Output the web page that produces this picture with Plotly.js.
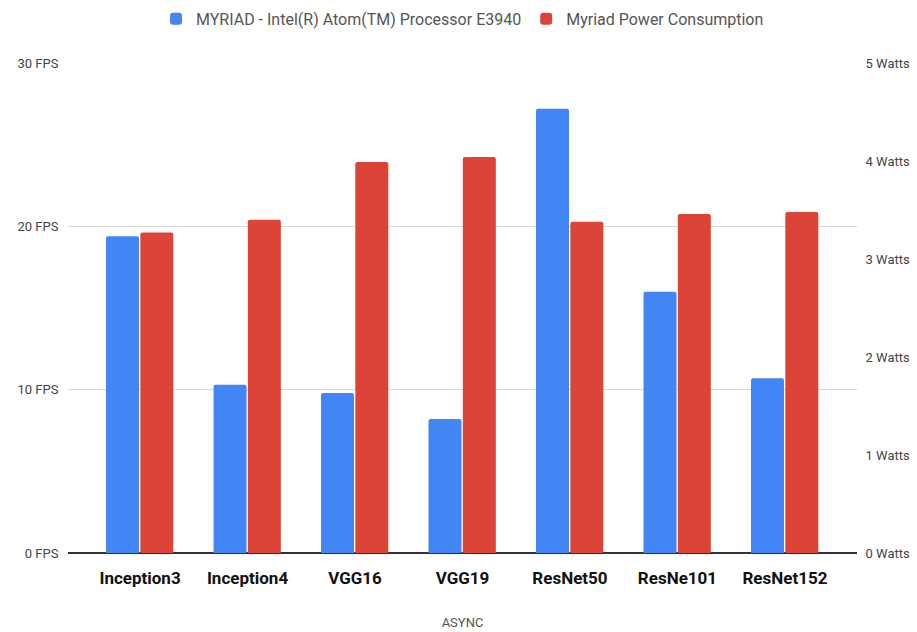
<!DOCTYPE html>
<html>
<head>
<meta charset="utf-8">
<script src="https://cdn.plot.ly/plotly-3.0.1.min.js"></script>
<style>html,body{margin:0;padding:0;background:#fff;}#chart{width:917px;height:632px;}</style>
</head>
<body>
<div id="chart"></div>
<script>
const categories = ["Inception3", "Inception4", "VGG16", "VGG19", "ResNet50", "ResNe101", "ResNet152"];
const fpsValues = [19.4, 10.3, 9.8, 8.2, 27.2, 16.0, 10.7];
const wattValues = [3.27, 3.40, 3.99, 4.04, 3.38, 3.46, 3.48];
const fpsName = "MYRIAD - Intel(R) Atom(TM) Processor E3940";
const wattName = "Myriad Power Consumption";
const fpsTicks = [0, 10, 20, 30];
const fpsTickText = ["0 FPS", "10 FPS", "20 FPS", "30 FPS"];
const wattTicks = [0, 1, 2, 3, 4, 5];
const wattTickText = ["0 Watts", "1 Watts", "2 Watts", "3 Watts", "4 Watts", "5 Watts"];

const traces = [
  {type: "bar", name: fpsName, x: categories, y: fpsValues, yaxis: "y",
   width: 0.307, offset: -0.316,
   marker: {color: "#4285f4", cornerradius: 2}, hoverinfo: "none"},
  {type: "bar", name: wattName, x: categories, y: wattValues, yaxis: "y2",
   width: 0.307, offset: 0.003,
   marker: {color: "#db4437", cornerradius: 2}, hoverinfo: "none"}
];

const layout = {
  width: 917, height: 632,
  margin: {l: 68, r: 60, t: 63, b: 79},
  paper_bgcolor: "#fff", plot_bgcolor: "#fff",
  font: {family: "Roboto, sans-serif", color: "#444"},
  showlegend: true,
  legend: {orientation: "h", x: 0.5, xanchor: "center", y: 0.997, yref: "container", yanchor: "top",
           font: {size: 16, color: "#555"}, itemwidth: 30, traceorder: "normal"},
  xaxis: {
    type: "category", range: [-0.67, 6.67],
    tickfont: {size: 17, color: "#111", family: "Roboto, sans-serif", weight: "bold"},
    ticks: "outside", ticklen: 10, tickcolor: "rgba(0,0,0,0)",
    showgrid: false, showline: false, zeroline: false,
    title: {text: "ASYNC", font: {size: 13, color: "#555"}, standoff: 30}
  },
  yaxis: {
    range: [0, 30], tickvals: fpsTicks, ticktext: fpsTickText,
    tickfont: {size: 13, color: "#444"},
    showgrid: true, gridcolor: "#d9d9d9", gridwidth: 1,
    zeroline: true, zerolinecolor: "#333", zerolinewidth: 1.5,
    ticks: "outside", ticklen: 6, tickcolor: "rgba(0,0,0,0)",
    showline: false
  },
  yaxis2: {
    range: [0, 5], tickvals: wattTicks, ticktext: wattTickText,
    overlaying: "y", side: "right",
    tickfont: {size: 13, color: "#444"},
    showgrid: false, zeroline: false, showline: false,
    ticks: "outside", ticklen: 5, tickcolor: "rgba(0,0,0,0)"
  },
  bargap: 0.38
};

Plotly.newPlot("chart", traces, layout, {displayModeBar: false, staticPlot: true});
</script>
</body>
</html>
